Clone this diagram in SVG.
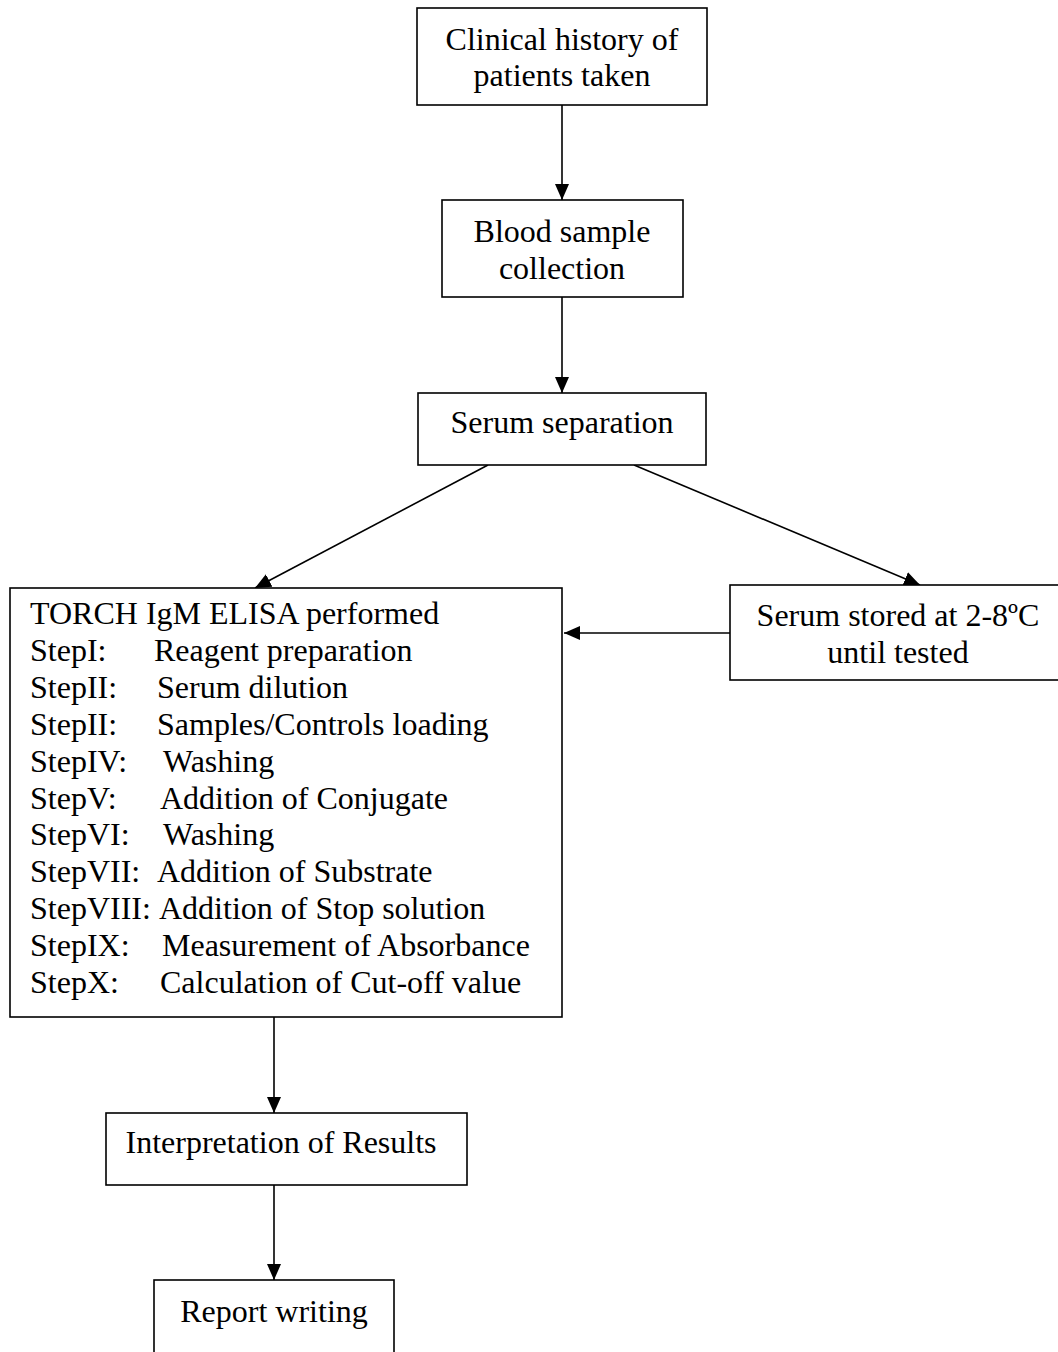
<svg xmlns="http://www.w3.org/2000/svg" width="1058" height="1352" viewBox="0 0 1058 1352">
<style>
.box{fill:#fff;stroke:#000;stroke-width:1.6}
.t{font-family:"Liberation Serif","Times New Roman",serif;font-size:32px;fill:#000}
.c{text-anchor:middle}
.ln{stroke:#000;stroke-width:1.6;fill:none;marker-end:url(#ah)}
</style>
<defs>
<marker id="ah" markerUnits="userSpaceOnUse" markerWidth="16" markerHeight="16" viewBox="0 0 16 16" refX="16" refY="8" orient="auto">
<path d="M0,1 L16,8 L0,15 Z" fill="#000"/>
</marker>
</defs>
<rect width="1058" height="1352" fill="#fff"/>
<g id="connectors">
<line class="ln" x1="562" y1="105" x2="562" y2="200"/>
<line class="ln" x1="562" y1="297" x2="562" y2="393"/>
<line class="ln" x1="488" y1="465" x2="255" y2="588"/>
<line class="ln" x1="634" y1="465" x2="920" y2="585"/>
<line class="ln" x1="730" y1="633" x2="564" y2="633"/>
<line class="ln" x1="274" y1="1017" x2="274" y2="1113"/>
<line class="ln" x1="274" y1="1185" x2="274" y2="1280"/>
</g>
<g id="n1">
<rect class="box" x="417" y="8" width="290" height="97"/>
<text class="t c" x="562" y="50">Clinical history of</text>
<text class="t c" x="562" y="86">patients taken</text>
</g>
<g id="n2">
<rect class="box" x="442" y="200" width="241" height="97"/>
<text class="t c" x="562" y="242">Blood sample</text>
<text class="t c" x="562" y="279">collection</text>
</g>
<g id="n3">
<rect class="box" x="418" y="393" width="288" height="72"/>
<text class="t c" x="562" y="433">Serum separation</text>
</g>
<g id="n4">
<rect class="box" x="10" y="588" width="552" height="429"/>
<text class="t" x="30" y="624">TORCH IgM ELISA performed</text>
<text class="t" x="30" y="661">StepI:</text><text class="t" x="154" y="661">Reagent preparation</text>
<text class="t" x="30" y="698">StepII:</text><text class="t" x="157" y="698">Serum dilution</text>
<text class="t" x="30" y="735">StepII:</text><text class="t" x="157" y="735">Samples/Controls loading</text>
<text class="t" x="30" y="772">StepIV:</text><text class="t" x="163" y="772">Washing</text>
<text class="t" x="30" y="809">StepV:</text><text class="t" x="160" y="809">Addition of Conjugate</text>
<text class="t" x="30" y="845">StepVI:</text><text class="t" x="163" y="845">Washing</text>
<text class="t" x="30" y="882">StepVII:</text><text class="t" x="157" y="882">Addition of Substrate</text>
<text class="t" x="30" y="919">StepVIII:</text><text class="t" x="159" y="919">Addition of Stop solution</text>
<text class="t" x="30" y="956">StepIX:</text><text class="t" x="162" y="956">Measurement of Absorbance</text>
<text class="t" x="30" y="993">StepX:</text><text class="t" x="160" y="993">Calculation of Cut-off value</text>
</g>
<g id="n5">
<rect class="box" x="730" y="585" width="340" height="95"/>
<text class="t c" x="898" y="626">Serum stored at 2-8ºC</text>
<text class="t c" x="898" y="663">until tested</text>
</g>
<g id="n6">
<rect class="box" x="106" y="1113" width="361" height="72"/>
<text class="t c" x="281" y="1153">Interpretation of Results</text>
</g>
<g id="n7">
<rect class="box" x="154" y="1280" width="240" height="90"/>
<text class="t c" x="274" y="1322">Report writing</text>
</g>
</svg>
